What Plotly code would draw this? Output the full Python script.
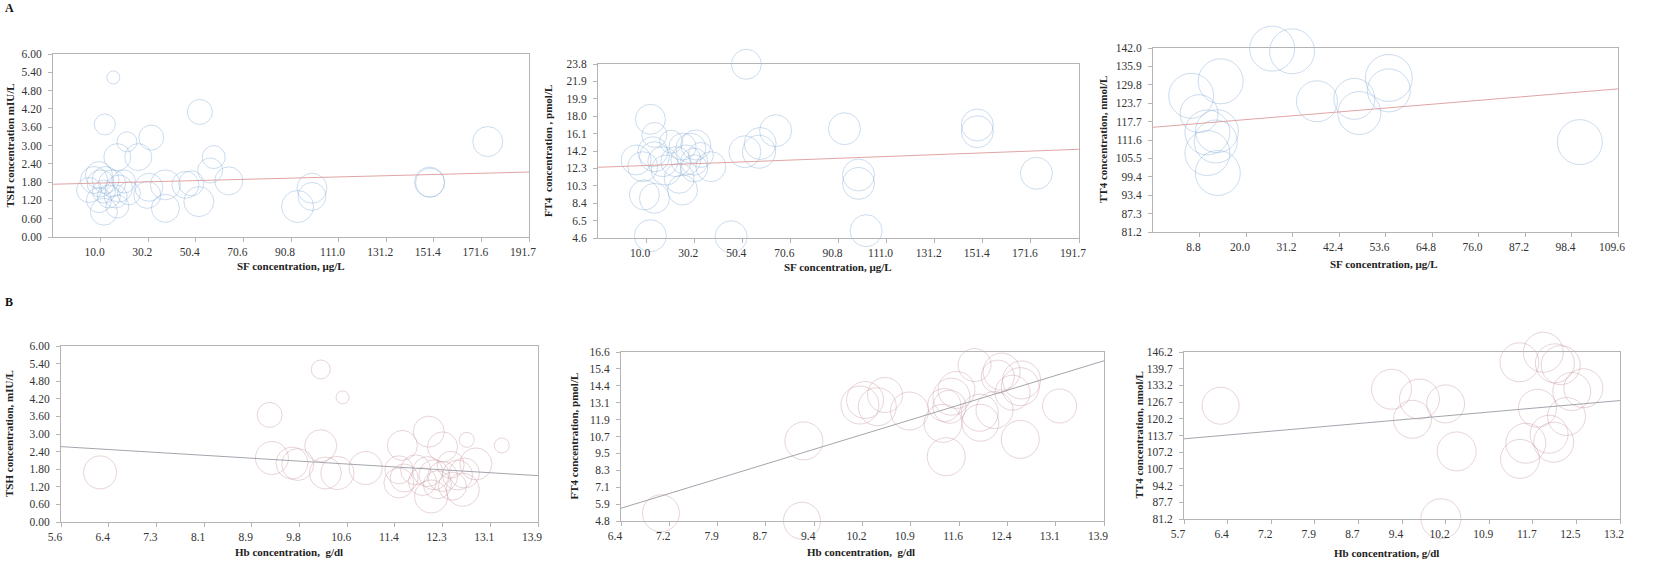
import numpy as np
import plotly.graph_objects as go

W, H = 1654, 561

# ---------------- DATA ----------------
# Panel A1: TSH vs SF
a1_sf = [15.4, 52.1, 11.8, 31.5, 21.2, 174.3, 17.1, 26.0, 58.0, 56.5, 64.4, 51.7, 46.0, 48.5,
         37.5, 37.5, 30.5, 29.8, 9.3, 5.1, 10.0, 12.1, 14.9, 11.4, 13.5, 16.4, 17.8, 9.3,
         11.4, 17.1, 19.9, 22.0, 7.2, 93.6, 99.7, 99.7, 149.6, 149.8]
a1_tsh = [5.23, 4.10, 3.69, 3.26, 3.12, 3.13, 2.62, 2.62, 2.62, 2.18, 1.84, 1.16, 1.71, 1.76,
          1.71, 0.94, 1.63, 1.38, 2.03, 1.54, 1.76, 1.87, 1.76, 1.49, 1.33, 1.33, 1.59, 1.21,
          0.83, 1.00, 1.82, 1.43, 1.87, 1.00, 1.60, 1.33, 1.80, 1.78]
a1_bubble = [13, 25, 21, 25, 20, 30, 27, 27, 23, 25, 28, 30, 27, 25,
             30, 28, 28, 27, 27, 25, 27, 27, 27, 23, 23, 23, 27, 25,
             27, 23, 23, 23, 27, 32, 30, 28, 30, 29]
a1_trend = [1.73, 2.13]

# Panel A2: FT4 vs SF
a2_sf = [52.1, 11.8, 64.4, 93.3, 149.1, 149.1, 173.9, 99.2, 99.2, 102.4, 45.7, 11.8, 51.5, 57.4,
         57.9, 37.2, 13.5, 5.8, 8.6, 12.8, 13.5, 17.0, 18.4, 20.5, 25.3, 28.8, 30.9, 22.5,
         26.7, 30.2, 33.0, 23.9, 30.2, 9.3, 13.5, 25.3]
a2_ft4 = [23.74, 17.67, 16.41, 16.63, 17.04, 16.30, 11.71, 11.52, 10.60, 5.38, 4.71, 4.82, 14.09, 14.09,
          15.00, 12.44, 15.94, 13.18, 12.44, 14.09, 13.54, 12.99, 12.07, 15.20, 14.65, 14.47, 14.83, 12.99,
          13.18, 12.99, 13.73, 11.16, 12.26, 9.32, 8.95, 9.87]
a2_bubble = [30, 30, 32, 32, 32, 32, 32, 32, 32, 32, 32, 32, 32, 33,
             32, 30, 25, 30, 30, 30, 30, 30, 30, 23, 27, 30, 30, 30,
             30, 27, 25, 30, 27, 30, 30, 30]
a2_trend = [12.37, 14.36]

# Panel A3: TT4 vs SF
a3_sf = [26.3, 31.1, 13.9, 6.8, 37.1, 46.1, 47.3, 54.4, 54.4, 8.7, 10.7, 13.0, 12.7, 10.7,
         13.2, 15.1, 100.4]
a3_tt4 = [141.8, 140.9, 131.0, 126.2, 124.4, 125.2, 120.5, 132.1, 128.0, 120.3, 114.1, 114.5, 111.1, 107.3,
          100.7, 81.1, 110.9]
a3_bubble = [45, 45, 45, 45, 41, 41, 43, 47, 43, 38, 45, 43, 43, 45, 45, 45, 45]
a3_trend = [115.8, 128.5]

# Panel B1: TSH vs Hb
b1_hb = [10.12, 10.50, 9.23, 6.28, 9.27, 9.62, 9.72, 10.12, 10.20, 10.41, 10.90, 12.00, 11.54, 12.24,
         12.66, 13.27, 12.82, 12.62, 12.59, 12.04, 11.48, 11.48, 11.57, 11.77, 11.98, 12.09, 12.24, 11.89,
         12.15, 12.41, 12.38, 12.50]
b1_tsh = [5.20, 4.25, 3.65, 1.69, 2.18, 2.01, 1.96, 2.60, 1.67, 1.67, 1.84, 3.08, 2.61, 2.56,
          2.80, 2.61, 1.98, 1.67, 1.10, 0.87, 1.33, 1.78, 1.50, 1.78, 1.72, 1.61, 1.55, 1.38,
          1.27, 1.22, 1.95, 1.60]
b1_bubble = [19, 13, 25, 33, 33, 32, 32, 32, 32, 33, 33, 31, 30, 30,
             15, 15, 32, 30, 33, 33, 30, 28, 28, 30, 30, 30, 30, 28,
             28, 28, 27, 30]
b1_trend = [2.57, 1.58]

# Panel B2: FT4 vs Hb
b2_hb = [7.02, 9.21, 9.24, 10.11, 10.19, 10.38, 10.50, 10.88, 11.40, 11.45, 11.61, 11.53, 11.50, 11.42,
         11.89, 12.10, 12.25, 12.31, 12.62, 12.60, 12.48, 12.20, 11.97, 11.98, 12.60, 13.21]
b2_ft4 = [5.34, 4.82, 10.39, 12.90, 13.25, 12.78, 13.60, 12.48, 11.62, 9.29, 13.95, 13.48, 12.78, 12.90,
          15.69, 16.62, 14.88, 15.23, 14.65, 14.18, 13.76, 12.55, 12.36, 11.66, 10.50, 12.83]
b2_bubble = [37, 37, 38, 38, 37, 38, 35, 38, 38, 38, 37, 37, 33, 33,
             33, 38, 33, 37, 38, 38, 35, 37, 37, 37, 38, 34]
b2_trend = [5.69, 15.99]

# Panel B3: TT4 vs Hb
b3_hb = [6.33, 9.27, 9.75, 9.63, 10.20, 10.39, 10.12, 11.47, 11.88, 12.08, 12.18, 12.37, 12.57, 11.78,
         12.28, 11.98, 12.06, 11.58, 11.48]
b3_tt4 = [125.3, 131.7, 127.9, 120.0, 126.0, 107.5, 81.3, 142.2, 146.1, 141.8, 141.1, 130.8, 132.1, 124.3,
          121.1, 114.2, 111.1, 110.7, 104.6]
b3_bubble = [37, 40, 40, 38, 38, 39, 40, 39, 40, 39, 39, 38, 39, 38, 38, 38, 40, 40, 39]
b3_trend = [112.4, 127.3]

# Tick labels
sf_ticks_ab = ["10.0", "30.2", "50.4", "70.6", "90.8", "111.0", "131.2", "151.4", "171.6", "191.7"]
sf_ticks_c = ["8.8", "20.0", "31.2", "42.4", "53.6", "64.8", "76.0", "87.2", "98.4", "109.6"]
tsh_ticks = ["0.00", "0.60", "1.20", "1.80", "2.40", "3.00", "3.60", "4.20", "4.80", "5.40", "6.00"]
ft4a_ticks = ["4.6", "6.5", "8.4", "10.3", "12.3", "14.2", "16.1", "18.0", "19.9", "21.9", "23.8"]
tt4a_ticks = ["81.2", "87.3", "93.4", "99.4", "105.5", "111.6", "117.7", "123.7", "129.8", "135.9", "142.0"]
hb1_ticks = ["5.6", "6.4", "7.3", "8.1", "8.9", "9.8", "10.6", "11.4", "12.3", "13.1", "13.9"]
hb2_ticks = ["6.4", "7.2", "7.9", "8.7", "9.4", "10.2", "10.9", "11.6", "12.4", "13.1", "13.9"]
hb3_ticks = ["5.7", "6.4", "7.2", "7.9", "8.7", "9.4", "10.2", "10.9", "11.7", "12.5", "13.2"]
ft4b_ticks = ["4.8", "5.9", "7.1", "8.3", "9.5", "10.7", "11.9", "13.1", "14.4", "15.4", "16.6"]
tt4b_ticks = ["81.2", "87.7", "94.2", "100.7", "107.2", "113.7", "120.2", "126.7", "133.2", "139.7", "146.2"]

# ---------------- LAYOUT ----------------
FONT = "Liberation Serif"
AXC = "#b4b4b4"
BLUE = "#86aed8"
RED_T = "#dc9a9a"
ROSE = "#c99aa2"
GRAY_T = "#9a9aa4"

# panel boxes in pixels: left, right, top, bottom
panels = [
    dict(box=(53, 529, 54, 237), xr=(-10.2, 191.8), xt=(10.0, 191.8, sf_ticks_ab), yr=(0, 6), yt=tsh_ticks,
         x=a1_sf, y=a1_tsh, s=a1_bubble, tr=a1_trend, bc=BLUE, tc=RED_T,
         ytitle="TSH concentration mIU/L", ytx=10, xtitle="SF concentration, μg/L", xtx=291, xty=266),
    dict(box=(598, 1079, 64, 238), xr=(-10.2, 191.8), xt=(10.0, 191.8, sf_ticks_ab), yr=(4.57, 23.77), yt=ft4a_ticks,
         x=a2_sf, y=a2_ft4, s=a2_bubble, tr=a2_trend, bc=BLUE, tc=RED_T,
         ytitle="FT4  concentration , pmol/L", ytx=548, xtitle="SF concentration, μg/L", xtx=838, xty=267),
    dict(box=(1153, 1618, 48, 232), xr=(-2.4, 109.6), xt=(8.8, 109.6, sf_ticks_c), yr=(81.2, 142.0), yt=tt4a_ticks,
         x=a3_sf, y=a3_tt4, s=a3_bubble, tr=a3_trend, bc=BLUE, tc=RED_T,
         ytitle="TT4 concentration, nmol/L", ytx=1103, xtitle="SF concentration, μg/L", xtx=1384, xty=264),
    dict(box=(61, 538, 346, 522), xr=(5.6, 13.9), xt=(5.6, 13.9, hb1_ticks), yr=(0, 6), yt=tsh_ticks,
         x=b1_hb, y=b1_tsh, s=b1_bubble, tr=b1_trend, bc=ROSE, tc=GRAY_T,
         ytitle="TSH concentration, mIU/L", ytx=9, xtitle="Hb concentration,  g/dl", xtx=289, xty=552),
    dict(box=(621, 1104, 352, 521), xr=(6.4, 13.9), xt=(6.4, 13.9, hb2_ticks), yr=(4.8, 16.6), yt=ft4b_ticks,
         x=b2_hb, y=b2_ft4, s=b2_bubble, tr=b2_trend, bc=ROSE, tc=GRAY_T,
         ytitle="FT4 concentration, pmol/L", ytx=573, xtitle="Hb concentration,  g/dl", xtx=861, xty=552),
    dict(box=(1184, 1620, 352, 519), xr=(5.7, 13.2), xt=(5.7, 13.2, hb3_ticks), yr=(81.2, 146.2), yt=tt4b_ticks,
         x=b3_hb, y=b3_tt4, s=b3_bubble, tr=b3_trend, bc=ROSE, tc=GRAY_T,
         ytitle="TT4 concentration, nmol/L", ytx=1138, xtitle="Hb concentration, g/dl", xtx=1386, xty=553),
]

fig = go.Figure()
annotations = []
all_sizes = [v for p in panels for v in p["s"]]
sizeref = max(all_sizes) / 47.0

for i, p in enumerate(panels):
    n = "" if i == 0 else str(i + 1)
    l, r, t, b = p["box"]
    xa, ya = "x" + n, "y" + n
    fig.add_trace(go.Scatter(
        x=p["x"], y=p["y"], mode="markers", xaxis=xa, yaxis=ya, cliponaxis=False,
        marker=dict(size=p["s"], sizemode="diameter", sizeref=sizeref,
                    color="rgba(0,0,0,0)", line=dict(color=p["bc"], width=0.6)),
        showlegend=False, hoverinfo="x+y"))
    fig.add_trace(go.Scatter(
        x=list(p["xr"]), y=p["tr"], mode="lines", xaxis=xa, yaxis=ya,
        line=dict(color=p["tc"], width=0.9), showlegend=False, hoverinfo="skip"))
    xlo, xhi, xlabels = p["xt"]
    xtv = list(np.linspace(xlo, xhi, len(xlabels)))
    ytv = list(np.linspace(p["yr"][0], p["yr"][1], len(p["yt"])))
    axcommon = dict(showgrid=False, zeroline=False, showline=True, linecolor=AXC, linewidth=1,
                    mirror=True, ticks="outside", tickcolor=AXC, ticklen=4, tickwidth=1,
                    automargin=False,
                    tickfont=dict(family=FONT, size=11.5, color="#333333"), tickmode="array")
    fig.update_layout(**{
        ("xaxis" + n): dict(domain=[l / W, r / W], range=list(p["xr"]), anchor=ya,
                            tickvals=xtv, ticktext=xlabels, ticklabelshift=-6, **axcommon),
        ("yaxis" + n): dict(domain=[1 - b / H, 1 - t / H], range=list(p["yr"]), anchor=xa,
                            tickvals=ytv, ticktext=p["yt"], ticklabelstandoff=4, **axcommon),
    })
    annotations.append(dict(text="<b>" + p["ytitle"] + "</b>", x=p["ytx"] / W, y=1 - ((t + b) / 2) / H,
                            xref="paper", yref="paper", textangle=-90, showarrow=False,
                            xanchor="center", yanchor="middle",
                            font=dict(family=FONT, size=11, color="#222222")))
    annotations.append(dict(text="<b>" + p["xtitle"] + "</b>", x=p["xtx"] / W, y=1 - p["xty"] / H,
                            xref="paper", yref="paper", showarrow=False,
                            xanchor="center", yanchor="middle",
                            font=dict(family=FONT, size=11, color="#222222")))

annotations.append(dict(text="<b>A</b>", x=3 / W, y=1 - 8 / H, xref="paper", yref="paper",
                        showarrow=False, xanchor="left", yanchor="middle",
                        font=dict(family=FONT, size=12, color="#111111")))
annotations.append(dict(text="<b>B</b>", x=3 / W, y=1 - 302 / H, xref="paper", yref="paper",
                        showarrow=False, xanchor="left", yanchor="middle",
                        font=dict(family=FONT, size=12, color="#111111")))

fig.update_layout(width=W, height=H, margin=dict(l=0, r=0, t=0, b=0),
                  paper_bgcolor="white", plot_bgcolor="white",
                  annotations=annotations, showlegend=False)

fig.write_html("out.html", config={"displayModeBar": False},
               post_script="document.body.style.margin='0';document.body.style.overflow='hidden';")
